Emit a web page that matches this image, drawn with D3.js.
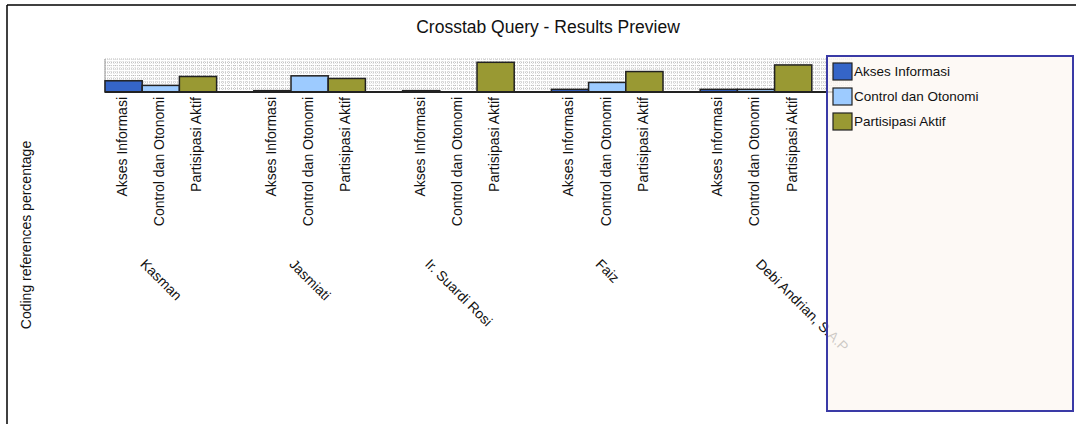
<!DOCTYPE html>
<html>
<head>
<meta charset="utf-8">
<script src="https://cdn.jsdelivr.net/npm/d3@7"></script>
<style>
  body { margin: 0; background: #fff; }
  text { font-family: "Liberation Sans", Arial, sans-serif; fill: #111; }
</style>
</head>
<body>
<script>
// data
const persons = ['Kasman', 'Jasmiati', 'Ir. Suardi Rosi', 'Faiz', 'Debi Andrian, S.A.P'];
const series = ['Akses Informasi', 'Control dan Otonomi', 'Partisipasi Aktif'];
const aksesInformasi = [34, 4, 4, 8, 8];
const controlOtonomi = [20, 49, 0, 29, 8];
const partisipasiAktif = [47, 41, 90, 62, 82];
const colors = ['#3565c8', '#9dcbff', '#999933'];

const values = [aksesInformasi, controlOtonomi, partisipasiAktif];
const rows = [];
persons.forEach((p, i) => series.forEach((s, j) => rows.push({person: p, series: s, value: values[j][i], k: j})));

const w = 1076, h = 424;
const svg = d3.select('body').append('svg').attr('width', w).attr('height', h);

// frame of the screenshot
svg.append('line').attr('x1', 7).attr('x2', w).attr('y1', 5).attr('y2', 5).attr('stroke', '#000').attr('stroke-width', 1.5);
svg.append('line').attr('x1', 7).attr('x2', 7).attr('y1', 5).attr('y2', h).attr('stroke', '#000').attr('stroke-width', 1.5);

svg.append('text').attr('x', 548).attr('y', 33).attr('text-anchor', 'middle')
  .style('font-size', '17.5px').text('Crosstab Query - Results Preview');

const pLeft = 105, pRight = 849, pTop = 59, pBase = 92;

const x0 = d3.scaleBand().domain(persons).range([pLeft, pRight]);
const x1 = d3.scaleBand().domain(series).range([0, x0.bandwidth() * 0.75]);
const y = d3.scaleLinear().domain([0, 100]).range([pBase, pTop]);

// dotted background grid
const grid = svg.append('g');
grid.selectAll('.hg').data(d3.range(0, 101, 10)).enter().append('line')
  .attr('x1', pLeft).attr('x2', pRight + 3).attr('y1', d => y(d)).attr('y2', d => y(d))
  .attr('stroke', '#b8b8b8').attr('stroke-dasharray', '1,1');
const xs = d3.scaleLinear().domain([0, 1]).range([pLeft, pRight + 3]);
grid.selectAll('.vg').data(d3.range(0, 1, 1 / 248)).enter().append('line')
  .attr('x1', d => xs(d)).attr('x2', d => xs(d)).attr('y1', pTop).attr('y2', pBase)
  .attr('stroke', '#d4d4d4').attr('stroke-dasharray', '1,1');
svg.append('line').attr('x1', pLeft).attr('x2', pLeft).attr('y1', pTop).attr('y2', pBase).attr('stroke', '#999');

svg.selectAll('.bar').data(rows).enter().append('rect')
  .attr('x', d => x0(d.person) + x1(d.series))
  .attr('y', d => y(d.value))
  .attr('width', x1.bandwidth())
  .attr('height', d => pBase - y(d.value))
  .attr('fill', d => colors[d.k])
  .attr('stroke', '#222').attr('stroke-width', 1.5);

svg.append('line').attr('x1', pLeft).attr('x2', pRight + 3).attr('y1', pBase).attr('y2', pBase)
  .attr('stroke', '#222').attr('stroke-width', 2);

// series labels under each bar
svg.selectAll('.cat').data(rows).enter().append('text')
  .attr('transform', d => 'translate(' + (x0(d.person) + x1(d.series) + x1.bandwidth() / 2 - 1.5) + ',97) rotate(-90)')
  .attr('text-anchor', 'end').attr('dy', '0.35em')
  .style('font-size', '14px').text(d => d.series);

// person labels, rotated 45deg
svg.selectAll('.person').data(persons).enter().append('text')
  .style('font-size', '14px').text(d => d)
  .attr('transform', function(d, i) {
    const len = this.getComputedTextLength();
    const c = x0(d) + x1.bandwidth() * 1.5;
    // the last label is pushed right in the original
    const sx = i === persons.length - 1 ? c - 1 : c - len * 0.354 - 3;
    return 'translate(' + sx + ',265) rotate(45)';
  });

svg.append('text').attr('transform', 'translate(31,235) rotate(-90)').attr('text-anchor', 'middle')
  .style('font-size', '14px').text('Coding references percentage');

// legend
const lg = svg.append('g');
lg.append('rect').attr('x', 827).attr('y', 56).attr('width', 246).attr('height', 355)
  .attr('fill', '#fcf8f3').attr('fill-opacity', 0.8).attr('stroke', '#3a3aa6').attr('stroke-width', 2);
const item = lg.selectAll('.li').data(series).enter().append('g')
  .attr('transform', (d, i) => 'translate(833,' + (63 + i * 25) + ')');
item.append('rect').attr('width', 19).attr('height', 17).attr('fill', (d, i) => colors[i])
  .attr('stroke', '#222').attr('stroke-width', 1.2);
item.append('text').attr('x', 21).attr('y', 13).style('font-size', '13.5px').text(d => d);
</script>
</body>
</html>
